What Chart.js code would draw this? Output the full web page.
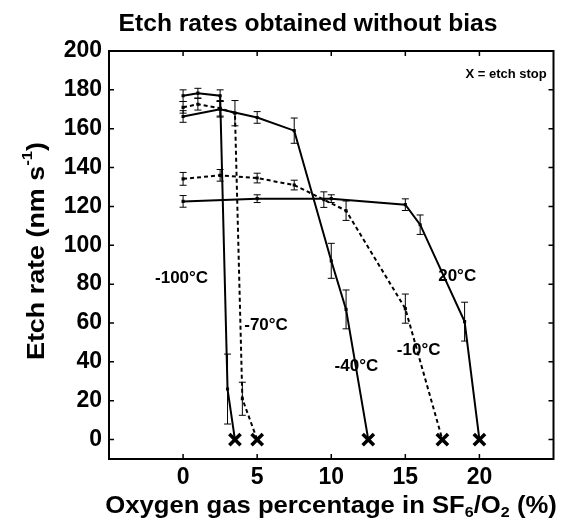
<!DOCTYPE html>
<html><head><meta charset="utf-8">
<script src="https://cdn.jsdelivr.net/npm/chart.js@4"></script>
<style>html,body{margin:0;padding:0;background:#fff}</style>
</head><body>
<canvas id="c" width="565" height="527"></canvas>
<script>
// ---- data ----
const xTicks = [0, 5, 10, 15, 20];
const yTicks = [0, 20, 40, 60, 80, 100, 120, 140, 160, 180, 200];

const xM100 = [0, 1, 2.5, 3, 3.5];
const yM100 = [177, 178.3, 177, 26, 0];
const eM100 = [3, 2.5, 3, 18, null];

const xM70 = [0, 1, 2.5, 3.5, 4, 5];
const yM70 = [171, 172.6, 170.5, 168, 21, 0];
const eM70 = [3, 3, 4, 6.5, 8.5, null];

const xM40 = [0, 2.5, 5, 7.5, 10, 11, 12.5];
const yM40 = [166.3, 170, 165.8, 159, 92, 67, 0];
const eM40 = [3, 4, 3, 6.5, 9, 10, null];

const xM10 = [0, 2.5, 5, 7.5, 9.5, 11, 15, 17.5];
const yM10 = [134.2, 136, 134.6, 131, 123.5, 117.8, 67.4, 0];
const eM10 = [3.3, 3, 2.5, 2.5, 4, 5, 7.5, null];

const xP20 = [0, 5, 10, 15, 16, 19, 20];
const yP20 = [122.6, 124, 124, 120.9, 110.6, 60.7, 0];
const eP20 = [3, 2, 2, 3, 5, 10, null];

const stopX = [3.5, 5, 12.5, 17.5, 20];
const stopY = [0, 0, 0, 0, 0];

const labelText = ['-100°C', '-70°C', '-40°C', '-10°C', '20°C', 'X = etch stop'];
const labelX = [-0.1, 5.6, 11.7, 15.9, 18.5, 21.8];
const labelY = [82.8, 58.6, 37.5, 45.8, 83.8, 188];

const titleText = 'Etch rates obtained without bias';

// ---- build ----
const FONT = '"Liberation Sans", Arial, Helvetica, sans-serif';
function pts(xs, ys) { return xs.map((x, i) => ({ x: x, y: ys[i] })); }
function series(xs, ys, es, dashed) {
  return {
    data: pts(xs, ys),
    errors: es,
    showLine: true,
    borderColor: '#000',
    backgroundColor: '#000',
    borderWidth: 2,
    borderDash: dashed ? [4, 3] : [],
    pointStyle: 'rect',
    pointRadius: es.map(e => e === null ? 0 : 2.2),
    pointBorderWidth: 0,
    tension: 0
  };
}

const errorBars = {
  id: 'errorBars',
  afterDatasetsDraw(chart) {
    const ctx = chart.ctx, xs = chart.scales.x, ys = chart.scales.y;
    ctx.save();
    ctx.strokeStyle = '#000';
    ctx.lineWidth = 1;
    chart.data.datasets.forEach(ds => {
      if (!ds.errors) return;
      ds.data.forEach((p, i) => {
        const e = ds.errors[i];
        if (e === null || e === undefined) return;
        const px = xs.getPixelForValue(p.x);
        const y1 = ys.getPixelForValue(p.y - e), y2 = ys.getPixelForValue(p.y + e);
        ctx.beginPath();
        ctx.moveTo(px, y1); ctx.lineTo(px, y2);
        ctx.moveTo(px - 3.5, y1); ctx.lineTo(px + 3.5, y1);
        ctx.moveTo(px - 3.5, y2); ctx.lineTo(px + 3.5, y2);
        ctx.stroke();
      });
    });
    ctx.restore();
  }
};

const frameAndText = {
  id: 'frameAndText',
  afterDraw(chart) {
    const ctx = chart.ctx, a = chart.chartArea, xs = chart.scales.x, ys = chart.scales.y;
    ctx.save();
    ctx.strokeStyle = '#000';
    ctx.lineWidth = 2;
    ctx.strokeRect(a.left, a.top, a.right - a.left, a.bottom - a.top);
    ctx.lineWidth = 1.5;
    ctx.beginPath();
    xTicks.forEach(v => {
      const px = xs.getPixelForValue(v);
      ctx.moveTo(px, a.bottom); ctx.lineTo(px, a.bottom - 5);
      ctx.moveTo(px, a.top); ctx.lineTo(px, a.top + 5);
    });
    yTicks.forEach(v => {
      const py = ys.getPixelForValue(v);
      ctx.moveTo(a.left, py); ctx.lineTo(a.left + 5, py);
      ctx.moveTo(a.right, py); ctx.lineTo(a.right - 5, py);
    });
    ctx.stroke();

    ctx.fillStyle = '#000';
    ctx.textBaseline = 'middle';
    // annotations
    labelText.forEach((t, i) => {
      ctx.font = 'bold ' + (i === 5 ? 13 : 17) + 'px ' + FONT;
      ctx.textAlign = 'center';
      ctx.fillText(t, xs.getPixelForValue(labelX[i]), ys.getPixelForValue(labelY[i]));
    });

    // rich text helper with horizontal stretch
    function rich(parts, cx, cy, sx) {
      let w = 0;
      parts.forEach(p => { ctx.font = 'bold ' + p.s + 'px ' + FONT; w += ctx.measureText(p.t).width; });
      ctx.save();
      ctx.translate(cx, cy);
      ctx.scale(sx, 1);
      let x = -w / 2;
      ctx.textAlign = 'left';
      parts.forEach(p => {
        ctx.font = 'bold ' + p.s + 'px ' + FONT;
        ctx.fillText(p.t, x, p.dy || 0);
        x += ctx.measureText(p.t).width;
      });
      ctx.restore();
    }
    // title
    rich([{ t: titleText, s: 23 }], 308, 25, 1.07);
    // x title
    rich([
      { t: 'Oxygen gas percentage in SF', s: 24 },
      { t: '6', s: 15, dy: 7 },
      { t: '/O', s: 24 },
      { t: '2', s: 15, dy: 7 },
      { t: ' (%)', s: 24 }
    ], 331, 506, 1.07);
    // y title
    ctx.save();
    ctx.translate(37, 251);
    ctx.rotate(-Math.PI / 2);
    rich([
      { t: 'Etch rate (nm s', s: 24 },
      { t: '-1', s: 15, dy: -9 },
      { t: ')', s: 24 }
    ], 0, 0, 1.12);
    ctx.restore();
    ctx.restore();
  }
};

new Chart(document.getElementById('c'), {
  type: 'scatter',
  data: {
    datasets: [
      series(xM100, yM100, eM100, false),
      series(xM70, yM70, eM70, true),
      series(xM40, yM40, eM40, false),
      series(xM10, yM10, eM10, true),
      series(xP20, yP20, eP20, false),
      {
        data: pts(stopX, stopY),
        showLine: false,
        pointStyle: 'crossRot',
        pointRadius: 8,
        borderColor: '#000',
        borderWidth: 3.5
      }
    ]
  },
  options: {
    responsive: false,
    animation: false,
    layout: { padding: { left: 0, right: 9.5, top: 51, bottom: 0 } },
    plugins: { legend: { display: false }, title: { display: false }, tooltip: { enabled: false } },
    scales: {
      x: {
        type: 'linear', min: -5, max: 25,
        afterBuildTicks: s => { s.ticks = xTicks.map(v => ({ value: v })); },
        afterFit: s => { s.height = 68; },
        grid: { display: false, drawTicks: false },
        border: { display: false },
        ticks: { color: '#000', padding: 5, font: { family: FONT, size: 23, weight: 'bold' } }
      },
      y: {
        type: 'linear', min: -10, max: 200,
        afterBuildTicks: s => { s.ticks = yTicks.map(v => ({ value: v })); },
        afterFit: s => { s.width = 109; },
        grid: { display: false, drawTicks: false },
        border: { display: false },
        ticks: { color: '#000', padding: 7, font: { family: FONT, size: 23, weight: 'bold' } }
      }
    }
  },
  plugins: [errorBars, frameAndText]
});
</script>
</body></html>
